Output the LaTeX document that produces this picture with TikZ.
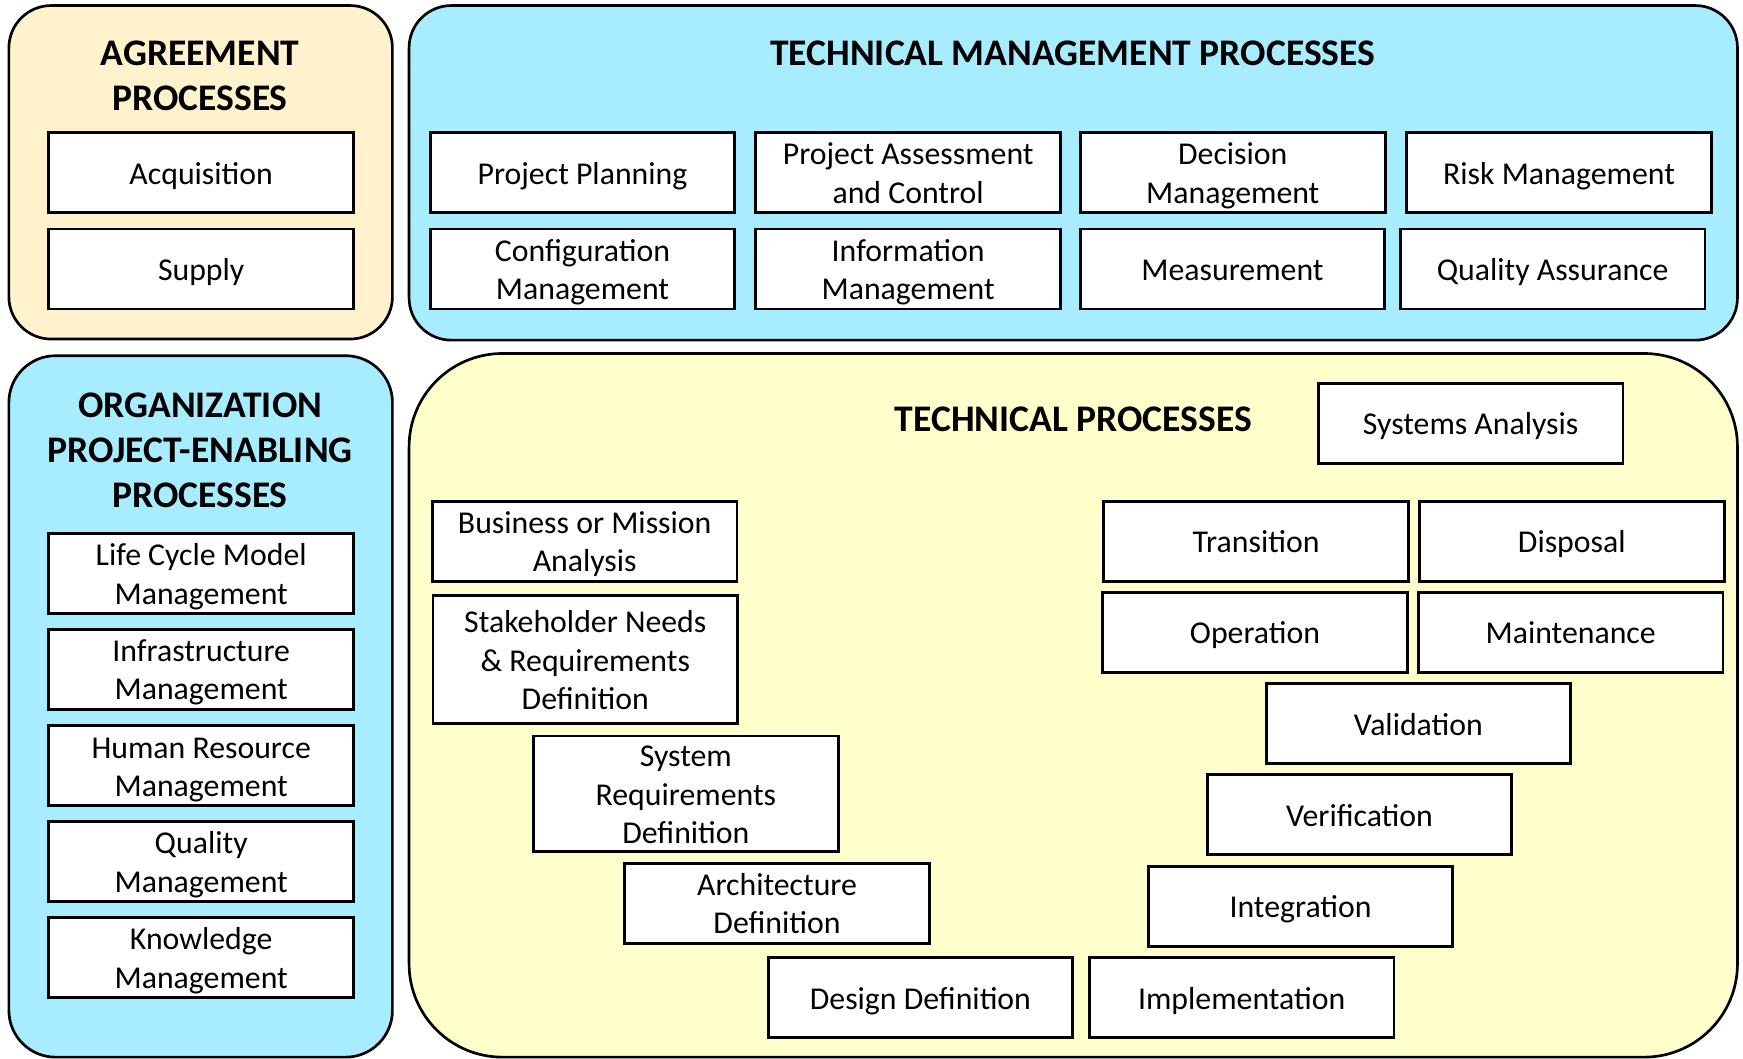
\documentclass[tikz,border=0pt]{standalone}
\usepackage{fontspec}
\setmainfont{Carlito}
\definecolor{agreefill}{RGB}{255,242,204}
\definecolor{cyanfill}{RGB}{168,236,255}
\definecolor{techfill}{RGB}{255,255,204}
\newcommand{\ls}{\rule[-0.205\baselineskip]{0pt}{\baselineskip}}
\tikzset{
  proc/.style={draw=black, fill=white, line width=1.3pt, minimum width=137pt,
    minimum height=36pt, inner sep=0pt, align=center,
    font=\fontsize{14.3}{17.3}\selectfont},
  grouptitle/.style={inner sep=0pt, align=center,
    font=\fontsize{16.9}{20.3}\selectfont\bfseries},
  container/.style={draw=black, line width=1.2pt}
}
\begin{document}
\begin{tikzpicture}[x=0.5pt,y=-0.5pt]
\useasboundingbox (0,0) rectangle (1568,952);
\begin{scope}
\clip (0,0) rectangle (1568,952);
% containers
\draw[container, fill=agreefill, rounded corners=19pt] (8,5) rectangle (353,305);
\draw[container, fill=cyanfill, rounded corners=19pt] (368,5) rectangle (1563,306);
\draw[container, fill=cyanfill, rounded corners=21pt] (8,320) rectangle (353,951);
\draw[container, fill=techfill, rounded corners=42pt] (368,318) rectangle (1563,951);
\end{scope}
% titles
\node[grouptitle] (tagree) at (180,68) {AGREEMENT\\PROCESSES};
\node[grouptitle] (ttmp) at (965,48) {TECHNICAL MANAGEMENT PROCESSES};
\node[grouptitle] (torg) at (180,405) {ORGANIZATION\\PROJECT-ENABLING\\PROCESSES};
\node[grouptitle] (ttp) at (965.5,377) {TECHNICAL PROCESSES};
% agreement
\node[proc] (acq) at (181,155.5) {\ls Acquisition};
\node[proc] (sup) at (181,242) {\ls Supply};
% technical management
\node[proc] (pp) at (524,155.5) {\ls Project Planning};
\node[proc] (pac) at (817,155.5) {\ls Project Assessment\\\ls and Control};
\node[proc] (dm) at (1109,155.5) {\ls Decision\\\ls Management};
\node[proc] (rm) at (1402.5,155.5) {\ls Risk Management};
\node[proc] (cm) at (524,242) {\ls Configuration\\\ls Management};
\node[proc] (im) at (817,242) {\ls Information\\\ls Management};
\node[proc] (meas) at (1108.75,242) {\ls Measurement};
\node[proc] (qa) at (1396.75,242) {\ls Quality Assurance};
% organization
\node[proc] (lcm) at (181,516) {\ls Life Cycle Model\\\ls Management};
\node[proc] (infm) at (181,602) {\ls Infrastructure\\\ls Management};
\node[proc] (hrm) at (181,689) {\ls Human Resource\\\ls Management};
\node[proc] (qm) at (181,775) {\ls Quality\\\ls Management};
\node[proc] (km) at (181,861.5) {\ls Knowledge\\\ls Management};
% technical
\node[proc] (sa) at (1323,381) {\ls Systems Analysis};
\node[proc] (bma) at (526,487) {\ls Business or Mission\\\ls Analysis};
\node[proc, minimum height=57.5pt] (snr) at (526.5,593.5) {\ls Stakeholder Needs\\\ls \& Requirements\\\ls Definition};
\node[proc, minimum height=51pt] (srd) at (617,714) {\ls System\\\ls Requirements\\\ls Definition};
\node[proc] (ad) at (699,812.5) {\ls Architecture\\\ls Definition};
\node[proc] (dd) at (828,897.5) {\ls Design Definition};
\node[proc] (impl) at (1117,897.5) {\ls Implementation};
\node[proc] (integ) at (1170,815.5) {\ls Integration};
\node[proc] (verif) at (1223,733) {\ls Verification};
\node[proc] (valid) at (1276,651) {\ls Validation};
\node[proc] (oper) at (1129,569) {\ls Operation};
\node[proc] (maint) at (1413,569) {\ls Maintenance};
\node[proc] (trans) at (1130,487) {\ls Transition};
\node[proc] (disp) at (1414,487) {\ls Disposal};
\end{tikzpicture}
\end{document}
